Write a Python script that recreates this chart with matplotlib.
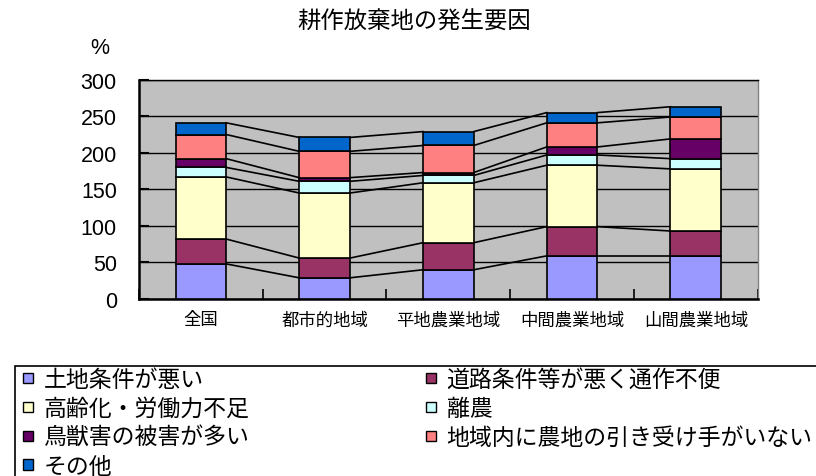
import numpy as np
import matplotlib
matplotlib.use('Agg')
import matplotlib.pyplot as plt
from matplotlib.patches import Patch, Rectangle

plt.rcParams['font.family'] = ['Liberation Sans', 'Noto Sans CJK JP']

# データ (%)
areas = ['全国', '都市的地域', '平地農業地域', '中間農業地域', '山間農業地域']
reasons = ['土地条件が悪い', '道路条件等が悪く通作不便', '高齢化・労働力不足', '離農',
           '鳥獣害の被害が多い', '地域内に農地の引き受け手がいない', 'その他']
land = [48, 29, 40, 59, 59]
road = [34, 27, 37, 40, 34]
aging = [85, 89, 82, 84, 85]
quit_farm = [13, 16, 10, 14, 14]
animals = [12, 5, 4, 11, 27]
no_taker = [33, 36, 37, 33, 30]
other = [16, 19, 19, 14, 14]
colors = ['#9999FF', '#993366', '#FFFFCC', '#CCFFFF', '#660066', '#FF8080', '#0066CC']
yticks = [0, 50, 100, 150, 200, 250, 300]

series = [land, road, aging, quit_farm, animals, no_taker, other]

fig = plt.figure(figsize=(8.16, 4.77), dpi=100)
ax = fig.add_axes([139 / 816, 1 - 300 / 477, (757.7 - 139) / 816, (300 - 80.7) / 477])
ax.set_facecolor('#C0C0C0')
ax.set_axisbelow(True)
ax.yaxis.grid(True, color='black', linewidth=1.0)

x = np.arange(len(areas))
w = 0.41
bottom = np.zeros(len(areas))
tops = []
for vals, col, name in zip(series, colors, reasons):
    ax.bar(x, vals, w, bottom=bottom, color=col, edgecolor='black', linewidth=1.2, label=name, zorder=3)
    bottom = bottom + np.array(vals)
    tops.append(bottom.copy())

# 区分線
for t in tops:
    for i in range(len(areas) - 1):
        ax.plot([x[i] + w / 2, x[i + 1] - w / 2], [t[i], t[i + 1]], color='black', linewidth=1.2, zorder=2)

ax.set_xlim(-0.5, len(areas) - 0.5)
ax.set_ylim(0, 300)
ax.set_yticks(yticks)
ax.set_yticklabels([str(v) for v in yticks], fontsize=15.5)
ax.set_xticks(x)
ax.set_xticklabels(areas, fontsize=12.5)
ax.set_xticks(np.arange(-0.5, len(areas), 1), minor=True)
ax.tick_params(axis='x', which='major', length=0, pad=9)
ax.tick_params(axis='x', which='minor', direction='in', length=7, width=1.2)
ax.tick_params(axis='y', direction='in', length=7, width=1.5, pad=16)
for s in ['left', 'bottom']:
    ax.spines[s].set_linewidth(1.8)
ax.spines['top'].set_linewidth(1.0)
ax.spines['right'].set_color('#808080')
ax.spines['right'].set_linewidth(1.0)

fig.text(414 / 816, 1 - 22 / 477, '耕作放棄地の発生要因', fontsize=16.8, ha='center', va='center')
fig.text(100 / 816, 1 - 48 / 477, '%', fontsize=15.5, ha='center', va='center')

# 凡例
fig.add_artist(Rectangle((15 / 816, -0.2), 1.2, 0.2 + (477 - 367) / 477, transform=fig.transFigure,
                         facecolor='none', edgecolor='black', linewidth=1.2))
handles = [Patch(facecolor=c, edgecolor='black', linewidth=1.0) for c in colors]
legend_kw = dict(loc='upper left', frameon=False, fontsize=16.5, handlelength=0.45, handleheight=0.315,
                 handletextpad=0.45, borderpad=0, borderaxespad=0, labelspacing=0.26)
fig.legend(handles[0::2], reasons[0::2], bbox_to_anchor=(23 / 816, 1 - 369 / 477), **legend_kw)
fig.legend(handles[1::2], reasons[1::2], bbox_to_anchor=(426 / 816, 1 - 369 / 477), **legend_kw)

fig.savefig('out.png', dpi=100)
